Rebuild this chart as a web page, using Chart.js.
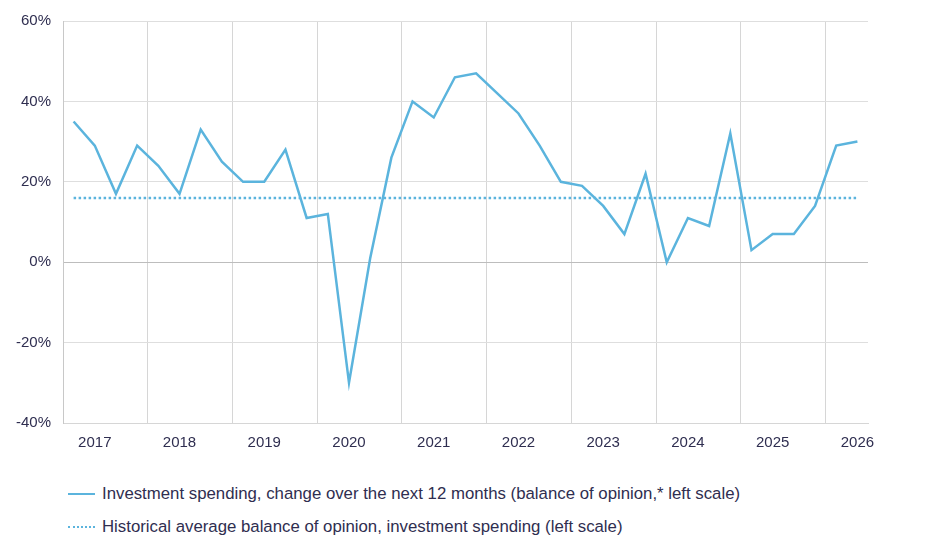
<!DOCTYPE html>
<html>
<head>
<meta charset="utf-8">
<script src="https://cdn.jsdelivr.net/npm/chart.js@4"></script>
<style>
  html,body{margin:0;padding:0;background:#fff;}
  body{width:932px;height:540px;position:relative;overflow:hidden;font-family:"Liberation Sans",Arial,sans-serif;}
  #wrap{position:absolute;left:0;top:0;width:932px;height:465px;}
  .leg{position:absolute;left:68px;font-size:16.8px;color:#2f2e50;white-space:nowrap;display:flex;align-items:center;}
  .sw{width:27px;height:0;margin-right:7px;}
  .solid{border-top:2.5px solid #5bb4dd;}
  .dot{border-top:2.5px dotted #5bb4dd;}
</style>
</head>
<body>
<div id="wrap"><canvas id="c"></canvas></div>
<div class="leg" style="top:484px;"><span class="sw solid"></span><span id="l1"></span></div>
<div class="leg" style="top:517px;"><span class="sw dot"></span><span id="l2"></span></div>
<script>
// Quarterly observations, 2017 Q1 .. 2026 Q2
const years = ["2017","2018","2019","2020","2021","2022","2023","2024","2025","2026"];
const investment = [35,29,17,29, 24,17,33,25, 20,20,28,11, 12,-30,1,26, 40,36,46,47, 42,37,29,20, 19,14,7,22, 0,11,9,32, 3,7,7,14, 29,30];
const historicalAverage = 16;
const yTicks = [-40,-20,0,20,40,60];
const seriesNames = [
  "Investment spending, change over the next 12 months (balance of opinion,* left scale)",
  "Historical average balance of opinion, investment spending (left scale)"
];

document.getElementById('l1').textContent = seriesNames[0];
document.getElementById('l2').textContent = seriesNames[1];

const mainPts = investment.map((v,i)=>({x:i,y:v}));
const avgPts = investment.map((v,i)=>({x:i,y:historicalAverage}));

// label ticks at the 2nd quarter of each year, grid ticks at year boundaries
const labelPos = years.map((y,i)=>i*4+1);
const gridPos = years.slice(1).map((y,i)=>(i+1)*4-0.5);
const blue = '#5bb4dd';
const txt = '#2f2e50';

new Chart(document.getElementById('c'), {
  type: 'line',
  data: {
    datasets: [
      {data: mainPts, borderColor: blue, borderWidth: 2.5, pointRadius: 0, tension: 0, fill:false},
      {data: avgPts, borderColor: blue, borderWidth: 2.5, borderDash:[2.5,2.5], pointRadius: 0, tension: 0, fill:false}
    ]
  },
  options: {
    responsive: true,
    maintainAspectRatio: false,
    animation: false,
    layout: {padding: {left: 4, right: 64, top: 12, bottom: 2}},
    plugins: {legend: {display:false}, tooltip:{enabled:false}},
    scales: {
      x: {
        type: 'linear', min: -0.5, max: 37.5,
        afterBuildTicks: (s)=>{
          const t = [];
          labelPos.forEach(v=>t.push({value:v}));
          gridPos.forEach(v=>t.push({value:v}));
          t.sort((a,b)=>a.value-b.value);
          s.ticks = t;
        },
        ticks: {
          autoSkip:false, maxRotation:0, color: txt, padding: 11,
          font:{family:'"Liberation Sans", Arial, sans-serif', size:15},
          callback: (v)=>{ const k = labelPos.indexOf(v); return k>=0 ? years[k] : ''; }
        },
        grid: {
          drawTicks:false,
          color: (ctx)=> (ctx.tick && gridPos.includes(ctx.tick.value)) ? '#d6d6d6' : 'rgba(0,0,0,0)',
          lineWidth: 1
        },
        border: {display:true, color:'#d6d6d6'}
      },
      y: {
        min: -40, max: 60,
        afterBuildTicks: (s)=>{ s.ticks = yTicks.map(v=>({value:v})); },
        ticks: {
          color: txt, padding: 12,
          font:{family:'"Liberation Sans", Arial, sans-serif', size:15},
          callback: (v)=> v + '%'
        },
        grid: {
          drawTicks:false,
          color: (ctx)=> (ctx.tick && ctx.tick.value===0) ? '#bdbdbd' : '#dedede',
          lineWidth: 1
        },
        border: {display:true, color:'#c8c8c8'}
      }
    }
  }
});
</script>
</body>
</html>
